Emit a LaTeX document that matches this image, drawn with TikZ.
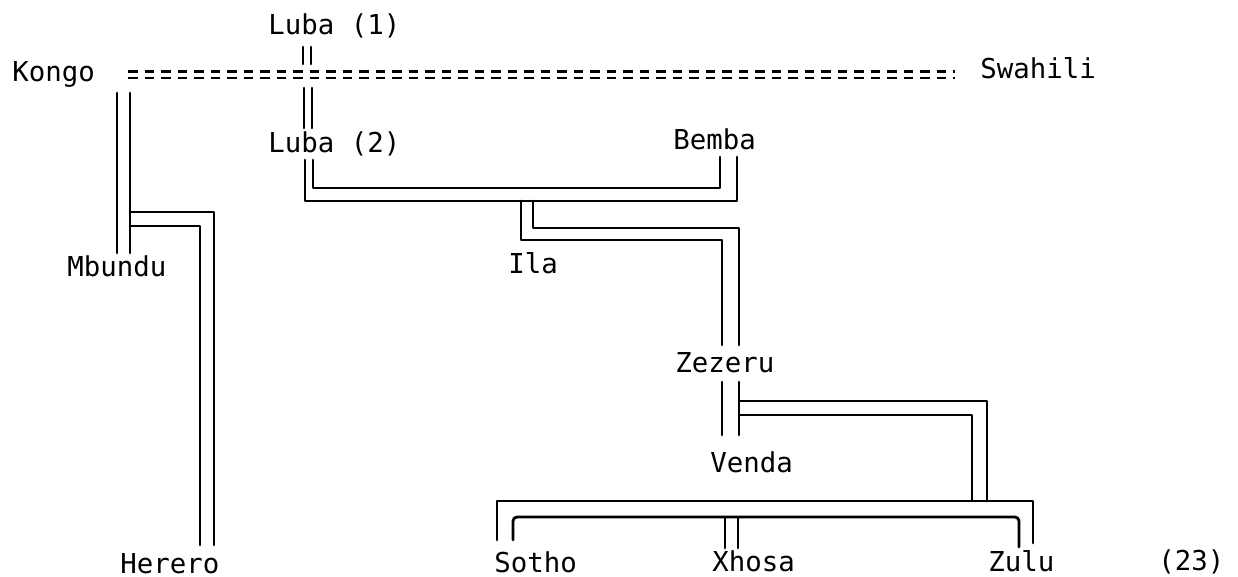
\documentclass[tikz,border=0pt]{standalone}
\usepackage{fontspec}
\newfontfamily\langfont{DejaVu Sans Mono}
\tikzset{
  tree/.style={line width=1.4pt, line join=round, line cap=round},
  eqbar/.style={line width=1.3pt, dash pattern=on 4.8pt off 3.45pt},
  lang/.style={font=\langfont\fontsize{13.7}{16}\selectfont, inner sep=0pt, anchor=base west},
}
\begin{document}
\begin{tikzpicture}[x=0.5pt,y=-0.5pt]
\useasboundingbox (0,0) rectangle (1238,577);
%% languages
\node[lang] (luba1) at (268,35) {Luba (1)};
\node[lang] (kongo) at (12,82) {Kongo};
\node[lang] (swahili) at (980,79) {Swahili};
\node[lang] (luba2) at (268,153) {Luba (2)};
\node[lang] (bemba) at (673,150) {Bemba};
\node[lang] (mbundu) at (67,277) {Mbundu};
\node[lang] (ila) at (508,274) {Ila};
\node[lang] (zezeru) at (675,373) {Zezeru};
\node[lang] (venda) at (710,473) {Venda};
\node[lang] (herero) at (120,573) {Herero};
\node[lang] (sotho) at (494,572) {Sotho};
\node[lang] (xhosa) at (712,571) {Xhosa};
\node[lang] (zulu) at (988,571) {Zulu};
\node[lang] (count) at (1158,570) {(23)};

%% line ends
\coordinate (eqw) at (128,75);   \coordinate (eqe) at (955,75);
\coordinate (l1w) at (303,47);   \coordinate (l1e) at (311,47);
\coordinate (e1w) at (303,64);   \coordinate (e1e) at (311,64);
\coordinate (e2w) at (304,88);   \coordinate (e2e) at (312,88);
\coordinate (l2w) at (304,128);  \coordinate (l2e) at (312,128);
\coordinate (kw) at (117,93);    \coordinate (ke) at (130,93);
\coordinate (mw) at (117,253);   \coordinate (me) at (130,253);
\coordinate (mh1) at (130,212);  \coordinate (mh2) at (130,226);
\coordinate (hw) at (200,545);   \coordinate (he) at (214,545);
\coordinate (l2sw) at (305,160); \coordinate (l2se) at (313,160);
\coordinate (bw) at (720,157);   \coordinate (be) at (737,157);
\coordinate (iw) at (521,201);   \coordinate (ie) at (533,201);
\coordinate (zw) at (722,345);   \coordinate (ze) at (739,345);
\coordinate (zsw) at (722,382);  \coordinate (zse) at (739,382);
\coordinate (vw) at (722,435);   \coordinate (ve) at (739,435);
\coordinate (vb1) at (739,401);  \coordinate (vb2) at (739,415);
\coordinate (sz1) at (987,501);  \coordinate (sz2) at (972,501);
\coordinate (sw) at (497,540);   \coordinate (se) at (513,540);
\coordinate (zuw) at (1019,547); \coordinate (zue) at (1033,543);
\coordinate (xtw) at (725,518);  \coordinate (xte) at (738,518);
\coordinate (xbw) at (725,548);  \coordinate (xbe) at (738,548);

%% Kongo == Swahili
\draw[eqbar] ([yshift=1.6pt]eqw) -- ([yshift=1.6pt]eqe);
\draw[eqbar] ([yshift=-1.6pt]eqw) -- ([yshift=-1.6pt]eqe);

%% Luba (1), Luba (2)
\draw[tree] (l1w) -- (e1w);
\draw[tree] (l1e) -- (e1e);
\draw[tree] (e2w) -- (l2w);
\draw[tree] (e2e) -- (l2e);

%% Kongo - Mbundu - Herero
\draw[tree] (kw) -- (mw);
\draw[tree] (ke) -- (me);
\draw[tree] (mh1) -| (he);
\draw[tree] (mh2) -| (hw);

%% Luba (2) - Bemba - Ila
\draw[tree] (l2se) -- ++(0,28) -| (bw);
\draw[tree] (l2sw) -- ++(0,41) -| (be);
\draw[tree] (iw) -- ++(0,39) -| (zw);
\draw[tree] (ie) -- ++(0,27) -| (ze);

%% Zezeru - Venda
\draw[tree] (zsw) -- (vw);
\draw[tree] (zse) -- (ve);
\draw[tree] (vb1) -| (sz1);
\draw[tree] (vb2) -| (sz2);

%% Sotho - Xhosa - Zulu
\draw[tree] (sw) -- ++(0,-39) -| (zue);
\draw[tree, rounded corners=2pt] (se) -- ++(0,-23) -| (zuw);
\draw[tree] (xtw) -- (xbw);
\draw[tree] (xte) -- (xbe);

\end{tikzpicture}
\end{document}
